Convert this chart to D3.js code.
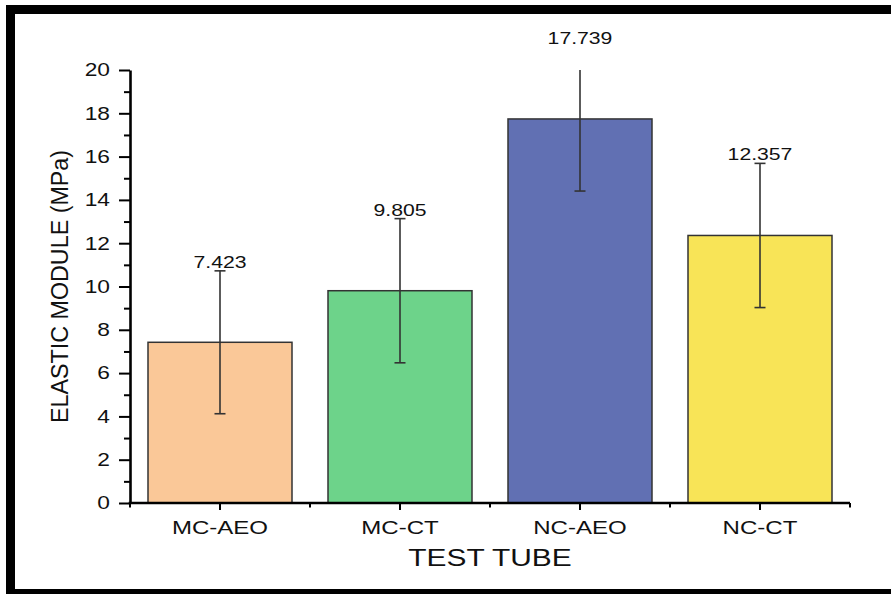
<!DOCTYPE html>
<html>
<head>
<meta charset="utf-8">
<script src="https://cdn.jsdelivr.net/npm/d3@7"></script>
<style>
  html, body { margin: 0; padding: 0; background: #fff; }
  svg { display: block; }
  text { font-family: "Liberation Sans", Arial, sans-serif; fill: #111; }
</style>
</head>
<body>
<svg id="chart" width="891" height="594"></svg>
<script>
// Elastic modulus per test tube (MPa), mean and error
const categories = ["MC-AEO", "MC-CT", "NC-AEO", "NC-CT"];
const values = [7.423, 9.805, 17.739, 12.357];
const errors = [3.30, 3.33, 3.33, 3.33];
const barColors = ["#FAC898", "#6DD38A", "#6170B3", "#F8E457"];
const yMajorTicks = [0, 2, 4, 6, 8, 10, 12, 14, 16, 18, 20];
const yMinorTicks = [1, 3, 5, 7, 9, 11, 13, 15, 17, 19];
const xTitle = "TEST TUBE";
const yTitle = "ELASTIC MODULE (MPa)";

const svg = d3.select("#chart");
const plot = { left: 130, right: 850, top: 70, bottom: 503 };
const sx = 1.3; // horizontal stretch of the lettering

// outer frame
svg.append("rect")
  .attr("x", 10.5).attr("y", 9.5)
  .attr("width", 900).attr("height", 584)
  .attr("fill", "#fff").attr("stroke", "#000").attr("stroke-width", 9);

const x = d3.scaleBand().domain(categories).range([plot.left, plot.right])
  .paddingInner(0.2).paddingOuter(0.1);
const y = d3.scaleLinear().domain([0, 20]).range([plot.bottom, plot.top]);

function label(g, tx, ty, str, size, anchor, stretch) {
  return g.append("text")
    .attr("transform", `translate(${tx},${ty}) scale(${stretch},1)`)
    .attr("text-anchor", anchor)
    .attr("font-size", size)
    .text(str);
}

// bars
svg.append("g").selectAll("rect")
  .data(categories)
  .join("rect")
  .attr("x", d => x(d))
  .attr("y", (d, i) => y(values[i]))
  .attr("width", x.bandwidth())
  .attr("height", (d, i) => y(0) - y(values[i]))
  .attr("fill", (d, i) => barColors[i])
  .attr("stroke", "#333")
  .attr("stroke-width", 1.5);

// error bars (clipped to the axis range)
const eg = svg.append("g").attr("stroke", "#333").attr("stroke-width", 1.6);
categories.forEach((c, i) => {
  const cx = x(c) + x.bandwidth() / 2;
  const hi = values[i] + errors[i];
  const lo = values[i] - errors[i];
  const hiC = Math.min(hi, 20);
  eg.append("line").attr("x1", cx).attr("x2", cx).attr("y1", y(hiC)).attr("y2", y(lo));
  eg.append("line").attr("x1", cx - 5.5).attr("x2", cx + 5.5).attr("y1", y(lo)).attr("y2", y(lo));
  if (hi <= 20) {
    eg.append("line").attr("x1", cx - 5.5).attr("x2", cx + 5.5).attr("y1", y(hi)).attr("y2", y(hi));
  }
});

// value labels above the error bars
const vg = svg.append("g");
categories.forEach((c, i) => {
  const cx = x(c) + x.bandwidth() / 2;
  label(vg, cx, y(values[i] + errors[i]) - 3, values[i].toFixed(3), 16.3, "middle", sx);
});

// y axis
const yAxis = d3.axisLeft(y).tickValues(yMajorTicks).tickSize(11).tickSizeOuter(0).tickFormat("");
const ya = svg.append("g").attr("transform", `translate(${plot.left},0)`).call(yAxis);
ya.select(".domain").attr("stroke", "#000").attr("stroke-width", 2.6);
ya.selectAll(".tick line").attr("stroke", "#000").attr("stroke-width", 2);
const yMinor = d3.axisLeft(y).tickValues(yMinorTicks).tickSize(6).tickSizeOuter(0).tickFormat("");
const ym = svg.append("g").attr("transform", `translate(${plot.left},0)`).call(yMinor);
ym.select(".domain").remove();
ym.selectAll(".tick line").attr("stroke", "#000").attr("stroke-width", 2);
const ytl = svg.append("g");
yMajorTicks.forEach(t => label(ytl, 110, y(t) + 6.3, String(t), 17.5, "end", sx));

// x axis
const xAxis = d3.axisBottom(x).tickSize(7).tickSizeOuter(0).tickFormat("");
const xa = svg.append("g").attr("transform", `translate(0,${plot.bottom})`).call(xAxis);
xa.select(".domain").attr("stroke", "#000").attr("stroke-width", 2.6)
  .attr("d", `M${plot.left - 1.3},0H${plot.right}`);
xa.selectAll(".tick line").attr("stroke", "#000").attr("stroke-width", 2);
const edges = categories.map(c => x(c) - x.step() * x.paddingInner() / 2)
  .concat([plot.right]);
const xm = svg.append("g").attr("stroke", "#000").attr("stroke-width", 2);
edges.forEach(e => xm.append("line").attr("x1", e).attr("x2", e).attr("y1", plot.bottom).attr("y2", plot.bottom + 4.5));
const xtl = svg.append("g");
categories.forEach(c => label(xtl, x(c) + x.bandwidth() / 2, 534, c, 18.5, "middle", sx));

// axis titles
label(svg, (plot.left + plot.right) / 2, 566, xTitle, 23, "middle", sx);
svg.append("text")
  .attr("transform", `translate(68,${(plot.top + plot.bottom) / 2}) rotate(-90)`)
  .attr("text-anchor", "middle")
  .attr("font-size", 23.3)
  .text(yTitle);
</script>
</body>
</html>
